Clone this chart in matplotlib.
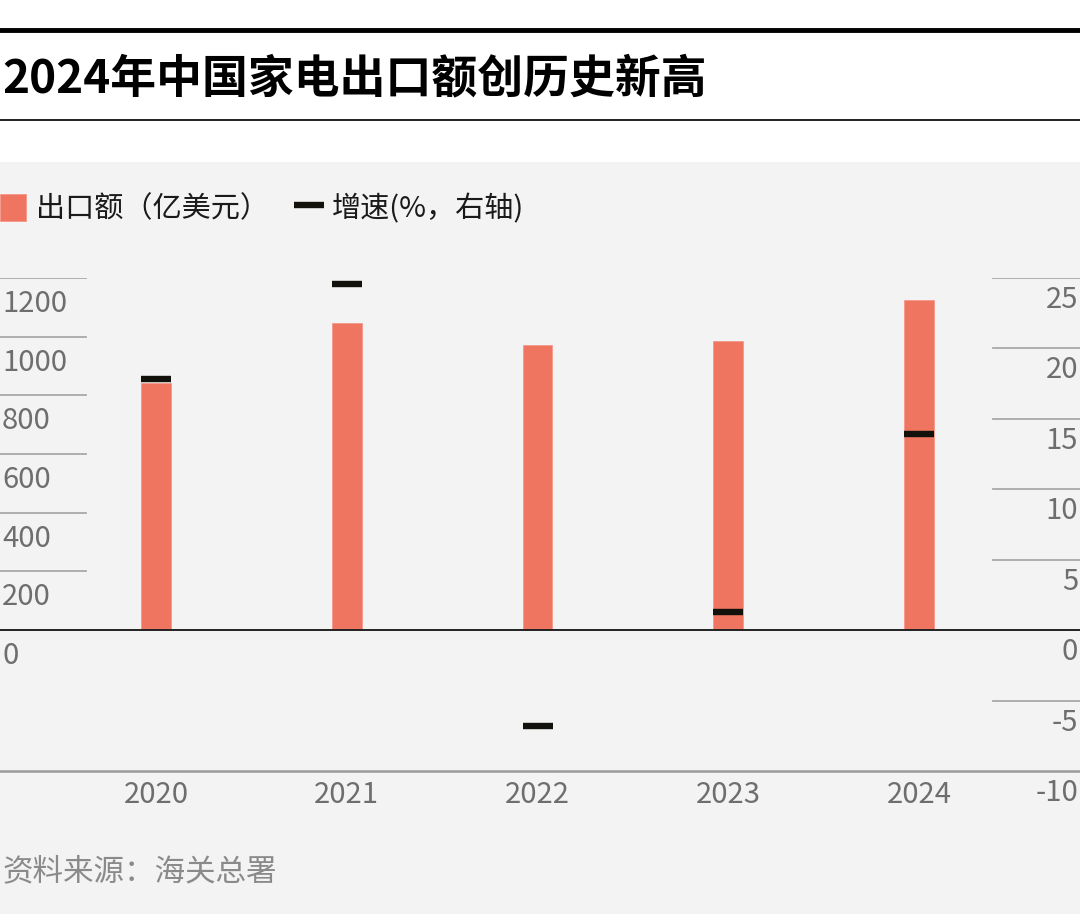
import matplotlib
matplotlib.use('Agg')
import matplotlib.pyplot as plt
from matplotlib.transforms import offset_copy
from matplotlib.patches import Rectangle
from matplotlib.lines import Line2D

plt.rcParams['font.family'] = ['Noto Sans CJK SC', 'DejaVu Sans']

title = '2024年中国家电出口额创历史新高'
years = ['2020', '2021', '2022', '2023', '2024']
exports = [842, 1046, 971, 985, 1124]          # 出口额（亿美元）
growth = [17.8, 24.6, -6.8, 1.3, 13.9]          # 增速（%）
left_ticks = [0, 200, 400, 600, 800, 1000, 1200]
right_ticks = [-10, -5, 0, 5, 10, 15, 20, 25]
label_bar = '出口额（亿美元）'
label_growth = '增速(%，右轴)'
source = '资料来源：海关总署'

W, H = 1080, 914
fig = plt.figure(figsize=(W / 100, H / 100), dpi=100)
fig.patch.set_facecolor('white')
fig.patches.append(Rectangle((0, 0), 1, (H - 162) / H, transform=fig.transFigure,
                             facecolor='#f3f3f3', edgecolor='none', zorder=-5))
fig.add_artist(Line2D([0, 1], [(H - 30) / H] * 2, color='black', lw=3.5))
fig.add_artist(Line2D([0, 1], [(H - 120) / H] * 2, color='#222222', lw=1.4))
fig.text(2 / W, (H - 79) / H, title, fontsize=33, fontweight='bold',
         va='center', ha='left', color='black')

ax = fig.add_axes([0, (H - 771) / H, 1, (771 - 278) / H])
ax.set_facecolor('none')
ax.set_zorder(2)
x = list(range(len(years)))
bars = ax.bar(x, exports, width=0.155, color='#f07560', edgecolor='#f5988a',
              linewidth=0.6, zorder=3, label=label_bar)
ax.set_xlim(-156 / 190.75, (W - 156) / 190.75)
ax.set_ylim(-480, 1200)

ax2 = ax.twinx()
ax2.set_zorder(3)
ax2.set_facecolor('none')
ax2.set_ylim(-10, 25)
marks, = ax2.plot(x, growth, ls='none', marker='_', markersize=21, mew=4.6,
                  color='#12110c', zorder=4, label=label_growth)

for a in (ax, ax2):
    for s in a.spines.values():
        s.set_visible(False)
    a.tick_params(left=False, right=False, bottom=False,
                  labelleft=False, labelright=False, labelbottom=False)
    a.set_yticks([])

ax.set_xticks([])
ax.spines['bottom'].set_visible(True)
ax.spines['bottom'].set_color('#9a9a9a')
ax.spines['bottom'].set_linewidth(1.8)

ax.axhline(0, color='#222222', lw=1.4, zorder=5)

tick_color = '#6e6e6e'
grid_color = '#a8a8a8'
tick_size = 21
ly = ax.get_yaxis_transform()
ry = ax2.get_yaxis_transform()
for v in left_ticks:
    if v != 0:
        ax.plot([0, 86 / W], [v, v], transform=ly, color=grid_color, lw=1.3)
    ax.text(2 / W, v, str(v), transform=offset_copy(ly, fig=fig, y=-34, units='dots'),
            ha='left', va='baseline', fontsize=tick_size, color=tick_color)
for v in right_ticks:
    if v not in (0, -10):
        ax2.plot([993 / W, 1], [v, v], transform=ry, color=grid_color, lw=1.3)
    ax2.text(1 - 2 / W, v, str(v), transform=offset_copy(ry, fig=fig, y=-30, units='dots'),
             ha='right', va='baseline', fontsize=tick_size, color=tick_color)

xt = ax.get_xaxis_transform()
for xi, yr in zip(x, years):
    ax.text(xi, 0, yr, transform=offset_copy(xt, fig=fig, y=-32, units='dots'),
            ha='center', va='baseline', fontsize=tick_size, color=tick_color)

leg = fig.legend(handles=[bars, marks], labels=[label_bar, label_growth],
                 loc='center left', bbox_to_anchor=(0, (H - 209) / H), ncol=2,
                 frameon=False, fontsize=21, borderpad=0, borderaxespad=0,
                 handlelength=0.9, handleheight=1.03, handletextpad=0.35,
                 columnspacing=0.9)
for t in leg.get_texts():
    t.set_color('#1a1a1a')

fig.text(2 / W, (H - 872) / H, source, fontsize=22, color='#8a8a8a',
         ha='left', va='center')

fig.savefig('out.png', dpi=100)
